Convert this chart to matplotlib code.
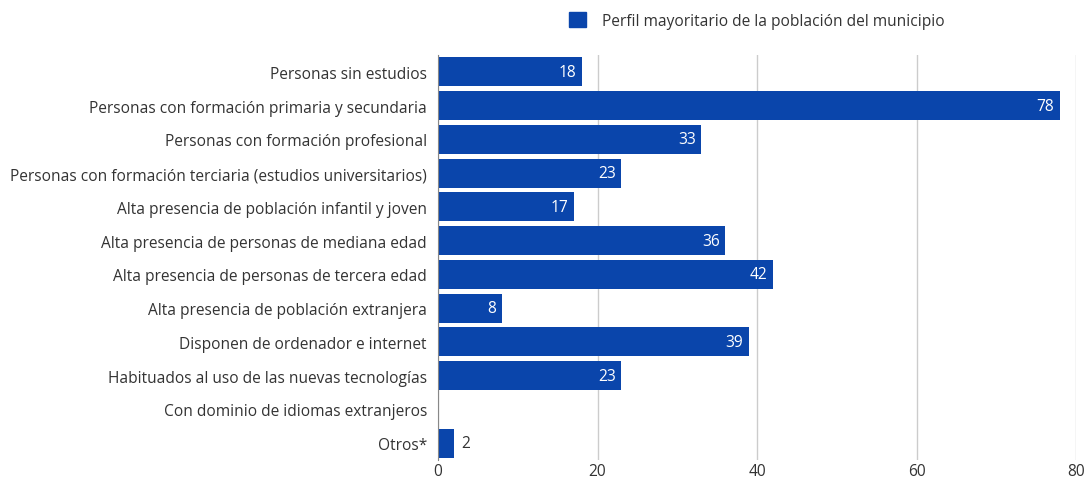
import matplotlib
matplotlib.use("Agg")
import matplotlib.pyplot as plt
from matplotlib.patches import Patch

plt.rcParams["font.family"] = ["Open Sans", "DejaVu Sans"]

categories = [
    "Personas sin estudios",
    "Personas con formación primaria y secundaria",
    "Personas con formación profesional",
    "Personas con formación terciaria (estudios universitarios)",
    "Alta presencia de población infantil y joven",
    "Alta presencia de personas de mediana edad",
    "Alta presencia de personas de tercera edad",
    "Alta presencia de población extranjera",
    "Disponen de ordenador e internet",
    "Habituados al uso de las nuevas tecnologías",
    "Con dominio de idiomas extranjeros",
    "Otros*",
]
values = [18, 78, 33, 23, 17, 36, 42, 8, 39, 23, 0, 2]
series_name = "Perfil mayoritario de la población del municipio"
xticks = [0, 20, 40, 60, 80]

blue = "#0a45ab"
text_col = "#333333"
fs = 11.2

fig = plt.figure(figsize=(10.88, 4.81), dpi=100)
ax = fig.add_axes([0.4026, 0.0416, 0.5864, 0.842])

y = list(range(len(categories)))
ax.barh(y, values, height=0.86, color=blue, zorder=3)

for yi, v in zip(y, values):
    if v == 0:
        continue
    if v >= 5:
        ax.text(v - 0.7, yi, str(v), ha="right", va="center", color="white",
                fontsize=fs, zorder=4)
    else:
        ax.text(v + 0.9, yi, str(v), ha="left", va="center", color=text_col,
                fontsize=fs, zorder=4)

ax.set_ylim(len(categories) - 0.5, -0.5)
ax.set_xlim(0, 80)
ax.set_yticks(y)
ax.set_yticklabels(categories, fontsize=fs, color=text_col)
ax.set_xticks(xticks)
ax.set_xticklabels([str(t) for t in xticks], fontsize=fs, color=text_col)
ax.tick_params(axis="y", length=0, pad=8)
ax.tick_params(axis="x", length=0, pad=2)

ax.grid(axis="x", color="#cccccc", linewidth=1, zorder=0)
for s in ["top", "right", "bottom"]:
    ax.spines[s].set_visible(False)
ax.spines["left"].set_color("#888888")
ax.spines["left"].set_zorder(5)

handle = Patch(facecolor=blue, edgecolor=blue)
fig.legend([handle], [series_name], loc="center left",
           bbox_to_anchor=(0.51, 0.955), frameon=False, fontsize=fs,
           handlelength=1.1, handleheight=1.1, handletextpad=1.0,
           labelcolor=text_col)

fig.savefig("out.png", dpi=100)
